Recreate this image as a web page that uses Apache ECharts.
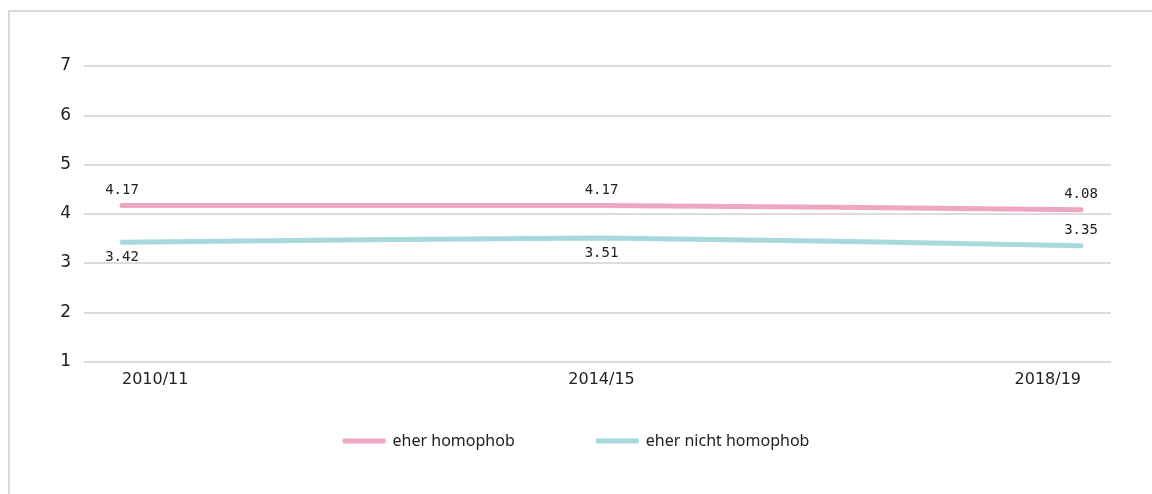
<!DOCTYPE html>
<html>
<head>
<meta charset="utf-8">
<script src="https://cdn.jsdelivr.net/npm/echarts@6/dist/echarts.min.js"></script>
<style>
html,body{margin:0;padding:0;background:#fff;}
#frame{position:absolute;left:8px;top:10px;width:1144px;height:484px;border-left:2px solid #dadada;border-top:2px solid #dadada;box-sizing:border-box;}
#chart{position:absolute;left:0;top:0;width:1152px;height:494px;}
</style>
</head>
<body>
<div id="frame"></div>
<div id="chart"></div>
<script>
const categories = ['2010/11', '2014/15', '2018/19'];
const seriesNames = ['eher homophob', 'eher nicht homophob'];
const homophob = [4.17, 4.17, 4.08];
const nichtHomophob = [3.42, 3.51, 3.35];
const yTicks = [1, 2, 3, 4, 5, 6, 7];

const colors = ['#eea6c5', '#a7d8dc'];
const labelPos = [['top', 'top', 'top'], ['bottom', 'bottom', 'top']];

const chart = echarts.init(document.getElementById('chart'), null, {renderer: 'canvas'});

function mk(vals, pos) {
  return vals.map((v, i) => ({value: v, label: {position: pos[i]}}));
}
const labelFont = {fontFamily: 'DejaVu Sans Mono', fontSize: 14, color: '#222', distance: 8};

const option = {
  animation: false,
  backgroundColor: 'transparent',
  grid: [
    {left: 84, right: 41, top: 66, bottom: 132.5},
    {left: 122, right: 71, top: 66, bottom: 132.5}
  ],
  xAxis: [
    {gridIndex: 0, type: 'category', data: categories, show: false},
    {gridIndex: 1, type: 'category', data: categories, boundaryGap: false,
     axisLine: {show: false}, axisTick: {show: false},
     axisLabel: {color: '#222', fontFamily: 'DejaVu Sans', fontSize: 16, margin: 10,
       alignMinLabel: 'left', alignMaxLabel: 'right', letterSpacing: 1}}
  ],
  yAxis: [
    {gridIndex: 0, type: 'value', min: yTicks[0], max: yTicks[yTicks.length - 1], interval: 1,
     axisLine: {show: false}, axisTick: {show: false},
     axisLabel: {color: '#222', fontFamily: 'DejaVu Sans', fontSize: 17, margin: 13},
     splitLine: {lineStyle: {color: '#d0d0d0', width: 1.5}}},
    {gridIndex: 1, type: 'value', min: yTicks[0], max: yTicks[yTicks.length - 1], interval: 1, show: false,
     splitLine: {show: false}}
  ],
  legend: {
    data: seriesNames,
    bottom: 40,
    left: 'center',
    icon: 'roundRect',
    itemWidth: 43,
    itemHeight: 5,
    itemGap: 81,
    textStyle: {color: '#222', fontFamily: 'Noto Sans', fontSize: 16, padding: [0, 0, 0, 2]}
  },
  series: [
    {name: seriesNames[0], type: 'line', xAxisIndex: 1, yAxisIndex: 1, smooth: 0.15,
     data: mk(homophob, labelPos[0]), symbol: 'circle', symbolSize: 0.1, showSymbol: true,
     color: colors[0], lineStyle: {width: 5, color: colors[0], cap: 'round'},
     label: Object.assign({show: true}, labelFont)},
    {name: seriesNames[1], type: 'line', xAxisIndex: 1, yAxisIndex: 1, smooth: 0.15,
     data: mk(nichtHomophob, labelPos[1]), symbol: 'circle', symbolSize: 0.1, showSymbol: true,
     color: colors[1], lineStyle: {width: 5, color: colors[1], cap: 'round'},
     label: Object.assign({show: true}, labelFont)}
  ]
};
chart.setOption(option);
</script>
</body>
</html>
